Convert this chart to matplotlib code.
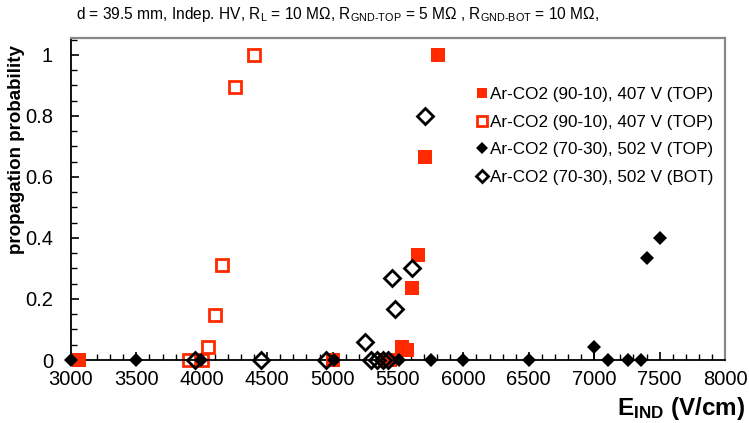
import matplotlib
matplotlib.use("Agg")
import matplotlib.pyplot as plt
from matplotlib.ticker import MultipleLocator

plt.rcParams['font.family'] = ['Liberation Sans', 'DejaVu Sans']
plt.rcParams['mathtext.fontset'] = 'custom'
plt.rcParams['mathtext.rm'] = 'Liberation Sans'
plt.rcParams['mathtext.it'] = 'Liberation Sans:italic'
plt.rcParams['mathtext.bf'] = 'Liberation Sans:bold'

# Ar-CO2 (90-10), 407 V (TOP) - filled squares
e_9010_a = [3060, 5000, 5400, 5440, 5530, 5570, 5605, 5650, 5705, 5805]
p_9010_a = [0, 0, 0, 0, 0.043, 0.033, 0.235, 0.345, 0.665, 1.0]

# Ar-CO2 (90-10), 407 V (TOP) - open squares
e_9010_b = [3900, 4005, 4050, 4100, 4155, 4255, 4400]
p_9010_b = [0, 0, 0.043, 0.148, 0.31, 0.895, 1.0]

# Ar-CO2 (70-30), 502 V (TOP) - filled diamonds
e_7030_top = [3000, 3500, 3995, 5010, 5505, 5750, 6000, 6500, 7000, 7105, 7255, 7355, 7405, 7505]
p_7030_top = [0, 0, 0, 0, 0, 0, 0, 0, 0.043, 0, 0, 0, 0.335, 0.40]
err_lo_7030_top = [0, 0, 0, 0, 0, 0, 0, 0, 0.043, 0, 0, 0, 0, 0]

# Ar-CO2 (70-30), 502 V (BOT) - open diamonds
e_7030_bot = [3945, 4450, 4950, 5250, 5295, 5340, 5385, 5425, 5452, 5475, 5605, 5705]
p_7030_bot = [0, 0, 0, 0.06, 0, 0, 0, 0, 0.268, 0.167, 0.30, 0.80]

legend_labels = ["Ar-CO2 (90-10), 407 V (TOP)", "Ar-CO2 (90-10), 407 V (TOP)",
                 "Ar-CO2 (70-30), 502 V (TOP)", "Ar-CO2 (70-30), 502 V (BOT)"]

RED = '#ff2a00'

fig = plt.figure(figsize=(7.49, 4.23), dpi=100)
ax = fig.add_axes([71/749, 1-360/423, (725-71)/749, (360-38)/423])

h1, = ax.plot(e_9010_a, p_9010_a, ls='none', marker='s', ms=9.5, mfc=RED, mec=RED,
              mew=0, clip_on=False, zorder=3)
h2, = ax.plot(e_9010_b, p_9010_b, ls='none', marker='s', ms=9, mfc='white', mec=RED,
              mew=2, clip_on=False, zorder=2)
ax.errorbar(e_7030_top, p_7030_top, yerr=[err_lo_7030_top, [0]*len(err_lo_7030_top)],
            fmt='none', ecolor='black', elinewidth=1.2, capsize=0, zorder=4, clip_on=False)
h3, = ax.plot(e_7030_top, p_7030_top, ls='none', marker='D', ms=7.5, mfc='black', mec='black',
              mew=0, clip_on=False, zorder=5)
h4, = ax.plot(e_7030_bot, p_7030_bot, ls='none', marker='D', ms=8, mfc='none', mec='black',
              mew=2, clip_on=False, zorder=4)

ax.set_xlim(3000, 8000)
ax.set_ylim(0, 1.055)
ax.xaxis.set_major_locator(MultipleLocator(500))
ax.xaxis.set_minor_locator(MultipleLocator(100))
ax.yaxis.set_major_locator(MultipleLocator(0.2))
ax.yaxis.set_minor_locator(MultipleLocator(0.05))
ax.yaxis.set_major_formatter(plt.FuncFormatter(lambda v, p: '0' if v == 0 else ('1' if abs(v-1) < 1e-9 else f'{v:.1f}')))
ax.tick_params(which='both', direction='in', top=False, right=False, labelsize=14.5, colors='black')
ax.tick_params(which='major', length=6, width=1.2)
ax.tick_params(which='minor', length=4, width=1)
ax.tick_params(axis='x', which='major', pad=7)
ax.tick_params(axis='y', which='major', pad=13)

for s in ('left', 'bottom'):
    ax.spines[s].set_color('black')
    ax.spines[s].set_linewidth(1.3)
for s in ('top', 'right'):
    ax.spines[s].set_color('#888888')
    ax.spines[s].set_linewidth(1.6)

leg = ax.legend([h1, h2, h3, h4], legend_labels, loc='upper left',
                bbox_to_anchor=((470-71)/654, 1-(80-38)/322), frameon=False,
                fontsize=12.3, handlelength=0.6, handletextpad=0.2, labelspacing=0.75,
                borderaxespad=0, markerscale=0.75)

fig.text(76/749, 1-14/423,
         r'd = 39.5 mm, Indep. HV, R$_\mathregular{L}$ = 10 M$\mathregular{\Omega}$, '
         r'R$_\text{GND-TOP}$ = 5 M$\mathregular{\Omega}$ , '
         r'R$_\text{GND-BOT}$ = 10 M$\mathregular{\Omega}$,',
         fontsize=11.2, ha='left', va='center')

fig.text(17/749, 1-150/423, 'propagation probability', rotation=90, fontsize=13.5,
         fontweight='bold', ha='center', va='center')
fig.text(745/749, 1-408/423, r'$\mathbf{E_{IND}}$ (V/cm)', fontsize=17.5, fontweight='bold',
         ha='right', va='center')

fig.savefig('out.png', dpi=100)
